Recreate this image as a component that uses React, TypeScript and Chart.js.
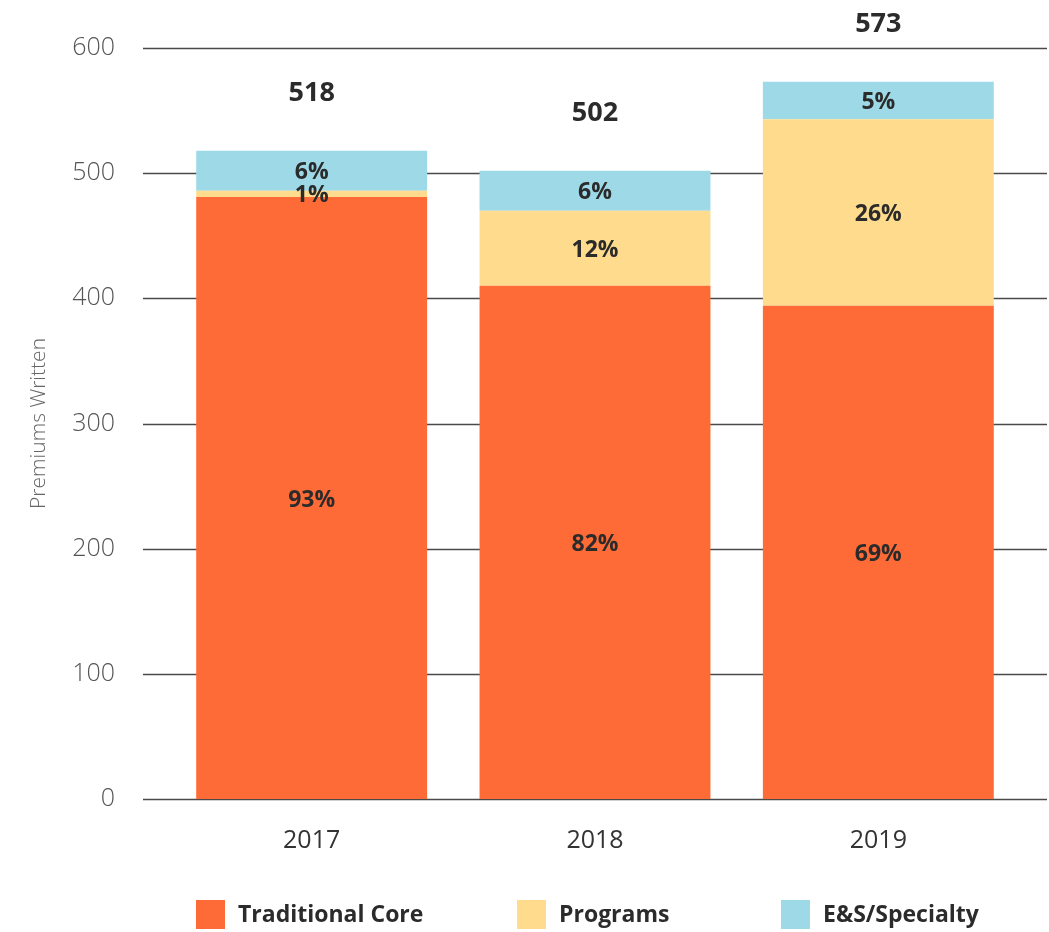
import React, { useEffect, useRef } from "react";
import { Chart, registerables } from "chart.js";

Chart.register(...registerables);

const categories = ["2017", "2018", "2019"];
const seriesNames = ["Traditional Core", "Programs", "E&S/Specialty"];
const traditionalCore = [481, 410, 394];
const programs = [5, 60, 149];
const esSpecialty = [32, 32, 30];
const seriesColors = ["#FF6B36", "#FFDC8D", "#9ED9E7"];
const yTicks = [0, 100, 200, 300, 400, 500, 600];

const FONT = "'Open Sans', 'Noto Sans', sans-serif";

const gridPlugin = {
  id: "fullGrid",
  beforeDatasetsDraw(chart: any) {
    const { ctx } = chart;
    const y = chart.scales.y;
    ctx.save();
    ctx.strokeStyle = "#4a4a4a";
    ctx.lineWidth = 1.3;
    yTicks.forEach((v) => {
      const py = Math.round(y.getPixelForValue(v)) + 0.5;
      ctx.beginPath();
      ctx.moveTo(143, py);
      ctx.lineTo(1047, py);
      ctx.stroke();
    });
    ctx.restore();
  },
};

const legendX = [196, 517, 781];

const legendPlugin = {
  id: "customLegend",
  afterDraw(chart: any) {
    const { ctx } = chart;
    ctx.save();
    ctx.textAlign = "left";
    ctx.textBaseline = "middle";
    ctx.font = `bold 23px ${FONT}`;
    chart.data.datasets.forEach((d: any, i: number) => {
      const x = legendX[i];
      ctx.fillStyle = d.backgroundColor;
      ctx.fillRect(x, 900, 29, 29);
      ctx.fillStyle = "#2b2b2b";
      ctx.fillText(d.label, x + 42, 915);
    });
    ctx.restore();
  },
};

const labelPlugin = {
  id: "barLabels",
  afterDatasetsDraw(chart: any) {
    const { ctx } = chart;
    const n = chart.data.labels.length;
    const totals: number[] = [];
    for (let i = 0; i < n; i++) {
      let s = 0;
      chart.data.datasets.forEach((d: any) => (s += d.data[i]));
      totals.push(s);
    }
    ctx.save();
    ctx.textAlign = "center";
    ctx.textBaseline = "middle";
    ctx.fillStyle = "#2b2b2b";
    ctx.font = `bold 23px ${FONT}`;
    chart.data.datasets.forEach((d: any, di: number) => {
      const meta = chart.getDatasetMeta(di);
      meta.data.forEach((bar: any, i: number) => {
        const pct = Math.round((d.data[i] / totals[i]) * 100);
        const cy = (bar.y + bar.base) / 2;
        ctx.fillText(`${pct}%`, bar.x, cy + 2);
      });
    });
    const lastMeta = chart.getDatasetMeta(chart.data.datasets.length - 1);
    ctx.font = `bold 27px ${FONT}`;
    lastMeta.data.forEach((bar: any, i: number) => {
      ctx.fillText(String(totals[i]), bar.x, bar.y - 57);
    });
    ctx.restore();
  },
};

export default function App() {
  const ref = useRef<HTMLCanvasElement>(null);
  useEffect(() => {
    if (!ref.current) return;
    const chart = new Chart(ref.current, {
      type: "bar",
      data: {
        labels: categories,
        datasets: [
          { label: seriesNames[0], data: traditionalCore, backgroundColor: seriesColors[0] },
          { label: seriesNames[1], data: programs, backgroundColor: seriesColors[1] },
          { label: seriesNames[2], data: esSpecialty, backgroundColor: seriesColors[2] },
        ],
      },
      options: {
        animation: false,
        responsive: true,
        maintainAspectRatio: false,
        layout: { padding: { left: 8, right: 29, top: 48, bottom: 0 } },
        datasets: { bar: { categoryPercentage: 1, barPercentage: 0.815 } },
        scales: {
          x: {
            stacked: true,
            afterFit: (s: any) => {
              s.height = 133;
            },
            grid: { display: false, drawTicks: false },
            border: { display: false },
            ticks: { color: "#333", font: { family: FONT, size: 25 }, padding: 27 },
          },
          y: {
            stacked: true,
            min: 0,
            max: 600,
            afterFit: (s: any) => {
              s.width = 162;
            },
            grid: { display: false, drawTicks: true, tickLength: 47 },
            border: { display: false },
            ticks: {
              stepSize: 100,
              color: "#555",
              padding: 8,
              font: { family: FONT, size: 25, weight: "300" },
            },
            title: {
              display: true,
              text: "Premiums Written",
              color: "#666",
              font: { family: FONT, size: 21, weight: "300" },
              padding: { top: 18, bottom: 0 },
            },
          },
        },
        plugins: {
          legend: { display: false },
          tooltip: { enabled: false },
        },
      },
      plugins: [gridPlugin, labelPlugin, legendPlugin],
    });
    return () => chart.destroy();
  }, []);
  return (
    <div style={{ position: "absolute", left: 0, top: 0, width: 1049, height: 932 }}>
      <canvas ref={ref} />
    </div>
  );
}
